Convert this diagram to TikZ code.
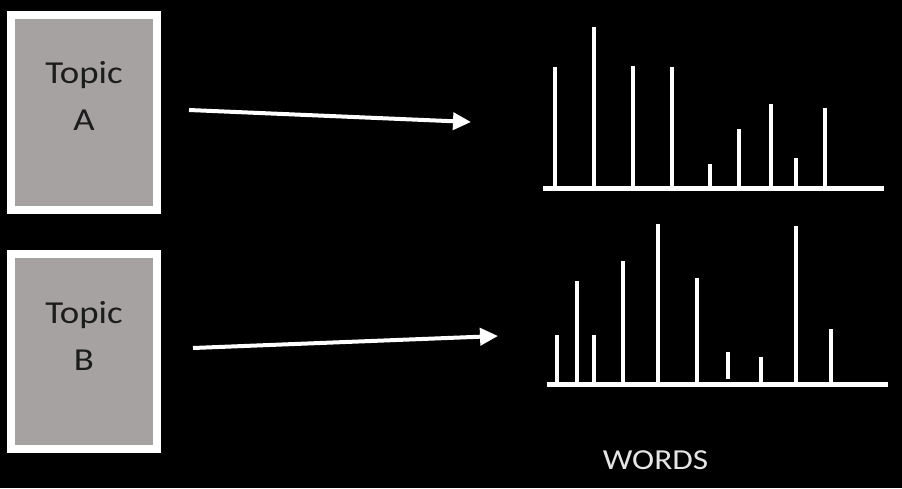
\documentclass[tikz,border=0pt]{standalone}
\usepackage{fontspec}
\setmainfont{Carlito}
\usetikzlibrary{arrows.meta}
\definecolor{boxgray}{RGB}{166,162,162}
\definecolor{inkdark}{RGB}{28,28,28}
\newcommand{\widetext}[1]{\scalebox{1.15}[1]{#1}}

\begin{document}
\begin{tikzpicture}[
      x=1pt, y=-1pt,
      topic/.style={draw=white, line width=8pt, fill=boxgray, minimum width=146pt, minimum height=195pt, inner sep=0pt},
      caption/.style={align=center, text=inkdark, font=\fontsize{32}{47}\selectfont},
      arr/.style={draw=white, line width=4pt, -{Triangle[length=18pt, width=17pt]}},
      axis/.style={white, line width=5pt},
      bar/.style={white, line width=3.5pt}
    ]
    \fill[black] (0,0) rectangle (902,488);

    % topic boxes
    \node[topic] (topicA) at (84,112.5) {};
    \node[caption] (nameA) at (84,96) {\widetext{Topic}\\\widetext{A}};
    \node[topic] (topicB) at (84,351) {};
    \node[caption] (nameB) at (84,335.5) {\widetext{Topic}\\\widetext{B}};

    % arrows to the word distributions
    \coordinate (tipA) at (471,122);
    \coordinate (tipB) at (498,336);
    \draw[arr] ([xshift=28pt, yshift=2.5pt]topicA.east) -- (tipA);
    \draw[arr] ([xshift=32pt, yshift=3pt]topicB.east) -- (tipB);

    % distribution of topic A
    \draw[axis] (543,188) -- (884,188);
    \foreach \x/\top in {555/67, 594/27, 633/66, 672/67, 710/164, 739/129, 771/104, 796/158, 825/108}
      \draw[bar] (\x,188) -- (\x,\top);

    % distribution of topic B
    \draw[axis] (547,384) -- (888,384);
    \foreach \x/\bot/\top in {557/384/335, 577/384/281, 594/384/335, 623/384/261, 658/384/224, 697/384/278, 728/379/352, 761/384/357, 796/384/226, 831/384/329}
      \draw[bar] (\x,\bot) -- (\x,\top);

    \node[font=\fontsize{29}{35}\selectfont, text=white!90!black] (words) at (655.5,460.5) {\widetext{WORDS}};
  \end{tikzpicture}
\end{document}
